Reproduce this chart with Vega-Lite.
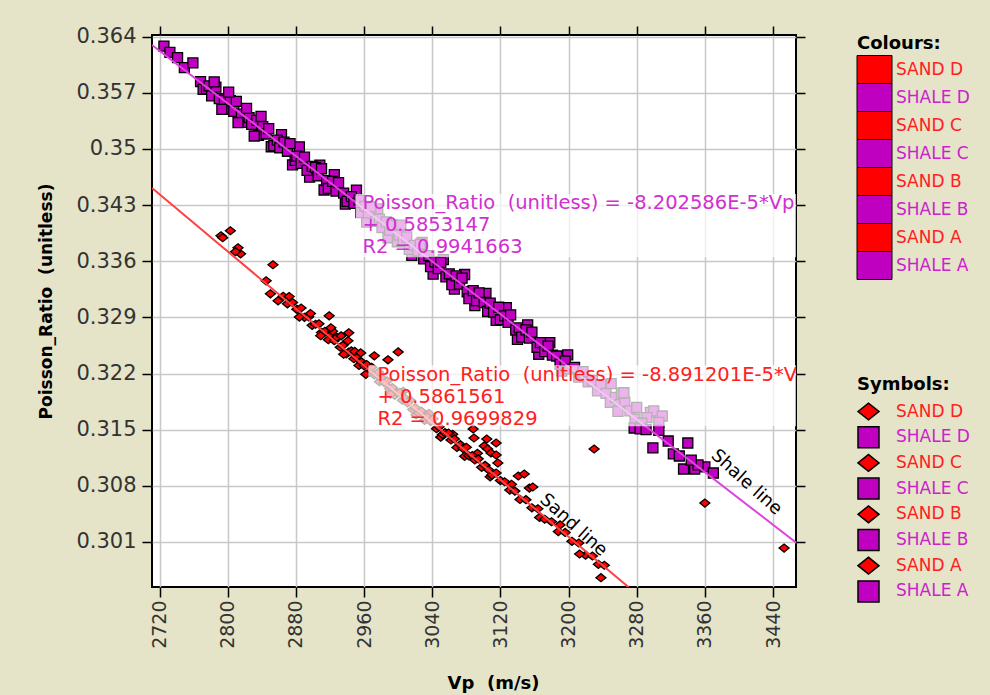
{
  "$schema": "https://vega.github.io/schema/vega-lite/v6.json",
  "width": 644,
  "height": 552,
  "autosize": {"type": "none"},
  "padding": {"left": 152, "top": 35, "right": 194, "bottom": 108},
  "background": "#e5e4c8",
  "config": {
    "view": {"fill": "white", "stroke": "black", "strokeWidth": 2},
    "axis": {
      "domain": false,
      "tickColor": "black",
      "tickWidth": 1.5,
      "tickSize": 10,
      "gridColor": "#c8c8c8",
      "gridWidth": 1.5,
      "labelFont": "DejaVu Sans",
      "labelColor": "#333333",
      "titleFont": "DejaVu Sans",
      "titleFontWeight": "bold",
      "titleColor": "black",
      "titleFontSize": 17
    },
    "legend": {
      "padding": 0,
      "titleFont": "DejaVu Sans",
      "titleFontSize": 18,
      "titleFontWeight": "bold",
      "titleColor": "black",
      "titlePadding": 6,
      "labelFont": "DejaVu Sans",
      "labelFontSize": 17,
      "labelLimit": 200
    }
  },
  "datasets": {
    "pts": [
      {"z":"SHALE D","vp":2725,"pr":0.3628},
      {"z":"SHALE D","vp":2732,"pr":0.36202},
      {"z":"SHALE D","vp":2741,"pr":0.36138},
      {"z":"SHALE D","vp":2749,"pr":0.36013},
      {"z":"SHALE D","vp":2759,"pr":0.36071},
      {"z":"SHALE D","vp":2768,"pr":0.35837},
      {"z":"SHALE D","vp":2771,"pr":0.35742},
      {"z":"SHALE D","vp":2775,"pr":0.35749},
      {"z":"SHALE D","vp":2778,"pr":0.35785},
      {"z":"SHALE D","vp":2781,"pr":0.3566},
      {"z":"SHALE D","vp":2786,"pr":0.35769},
      {"z":"SHALE D","vp":2790,"pr":0.35626},
      {"z":"SHALE D","vp":2796,"pr":0.35607},
      {"z":"SHALE D","vp":2798,"pr":0.35491},
      {"z":"SHALE D","vp":2803,"pr":0.356},
      {"z":"SHALE D","vp":2807,"pr":0.35467},
      {"z":"SHALE D","vp":2810,"pr":0.35592},
      {"z":"SHALE D","vp":2816,"pr":0.35433},
      {"z":"SHALE D","vp":2820,"pr":0.3533},
      {"z":"SHALE D","vp":2825,"pr":0.35389},
      {"z":"SHALE D","vp":2828,"pr":0.35305},
      {"z":"SHALE D","vp":2834,"pr":0.35355},
      {"z":"SHALE D","vp":2836,"pr":0.35169},
      {"z":"SHALE D","vp":2841,"pr":0.35278},
      {"z":"SHALE D","vp":2845,"pr":0.35185},
      {"z":"SHALE D","vp":2848,"pr":0.35251},
      {"z":"SHALE D","vp":2784,"pr":0.35835},
      {"z":"SHALE D","vp":2793,"pr":0.35492},
      {"z":"SHALE D","vp":2801,"pr":0.35706},
      {"z":"SHALE D","vp":2812,"pr":0.35326},
      {"z":"SHALE D","vp":2822,"pr":0.35504},
      {"z":"SHALE D","vp":2831,"pr":0.3516},
      {"z":"SHALE D","vp":2839,"pr":0.35404},
      {"z":"SHALE C","vp":2851,"pr":0.35026},
      {"z":"SHALE C","vp":2863,"pr":0.35178},
      {"z":"SHALE C","vp":2876,"pr":0.34801},
      {"z":"SHALE C","vp":2884,"pr":0.35025},
      {"z":"SHALE C","vp":2896,"pr":0.34647},
      {"z":"SHALE C","vp":2908,"pr":0.34798},
      {"z":"SHALE C","vp":2913,"pr":0.34487},
      {"z":"SHALE C","vp":2925,"pr":0.34679},
      {"z":"SHALE C","vp":2938,"pr":0.34312},
      {"z":"SHALE C","vp":2951,"pr":0.34486},
      {"z":"SHALE C","vp":2963,"pr":0.34087},
      {"z":"SHALE C","vp":2976,"pr":0.34251},
      {"z":"SHALE C","vp":2988,"pr":0.33892},
      {"z":"SHALE C","vp":2854,"pr":0.35041},
      {"z":"SHALE C","vp":2858,"pr":0.35109},
      {"z":"SHALE C","vp":2861,"pr":0.35014},
      {"z":"SHALE C","vp":2866,"pr":0.35083},
      {"z":"SHALE C","vp":2870,"pr":0.3497},
      {"z":"SHALE C","vp":2873,"pr":0.35066},
      {"z":"SHALE C","vp":2879,"pr":0.34856},
      {"z":"SHALE C","vp":2881,"pr":0.3491},
      {"z":"SHALE C","vp":2886,"pr":0.34819},
      {"z":"SHALE C","vp":2890,"pr":0.34896},
      {"z":"SHALE C","vp":2893,"pr":0.34731},
      {"z":"SHALE C","vp":2899,"pr":0.34782},
      {"z":"SHALE C","vp":2903,"pr":0.34769},
      {"z":"SHALE C","vp":2906,"pr":0.34665},
      {"z":"SHALE C","vp":2910,"pr":0.34752},
      {"z":"SHALE C","vp":2916,"pr":0.34603},
      {"z":"SHALE C","vp":2918,"pr":0.34506},
      {"z":"SHALE C","vp":2923,"pr":0.34595},
      {"z":"SHALE C","vp":2927,"pr":0.34473},
      {"z":"SHALE C","vp":2930,"pr":0.34578},
      {"z":"SHALE C","vp":2936,"pr":0.34449},
      {"z":"SHALE C","vp":2940,"pr":0.34346},
      {"z":"SHALE C","vp":2945,"pr":0.34405},
      {"z":"SHALE C","vp":2948,"pr":0.3432},
      {"z":"SHALE C","vp":2954,"pr":0.34361},
      {"z":"SHALE C","vp":2956,"pr":0.34205},
      {"z":"SHALE C","vp":2961,"pr":0.34284},
      {"z":"SHALE C","vp":2965,"pr":0.34201},
      {"z":"SHALE C","vp":2968,"pr":0.34276},
      {"z":"SHALE C","vp":2974,"pr":0.34097},
      {"z":"SHALE C","vp":2978,"pr":0.34124},
      {"z":"SHALE C","vp":2981,"pr":0.3402},
      {"z":"SHALE C","vp":2986,"pr":0.34089},
      {"z":"SHALE C","vp":2990,"pr":0.33986},
      {"z":"SHALE C","vp":2993,"pr":0.34051},
      {"z":"SHALE C","vp":2999,"pr":0.33842},
      {"z":"SHALE B","vp":3003,"pr":0.34049},
      {"z":"SHALE B","vp":3016,"pr":0.33672},
      {"z":"SHALE B","vp":3028,"pr":0.33834},
      {"z":"SHALE B","vp":3041,"pr":0.33438},
      {"z":"SHALE B","vp":3053,"pr":0.33619},
      {"z":"SHALE B","vp":3066,"pr":0.33252},
      {"z":"SHALE B","vp":3078,"pr":0.33434},
      {"z":"SHALE B","vp":3090,"pr":0.33046},
      {"z":"SHALE B","vp":3103,"pr":0.33199},
      {"z":"SHALE B","vp":3115,"pr":0.32861},
      {"z":"SHALE B","vp":3127,"pr":0.33022},
      {"z":"SHALE B","vp":3140,"pr":0.32625},
      {"z":"SHALE B","vp":3001,"pr":0.33926},
      {"z":"SHALE B","vp":3006,"pr":0.33845},
      {"z":"SHALE B","vp":3010,"pr":0.33902},
      {"z":"SHALE B","vp":3013,"pr":0.33747},
      {"z":"SHALE B","vp":3019,"pr":0.33798},
      {"z":"SHALE B","vp":3023,"pr":0.33725},
      {"z":"SHALE B","vp":3026,"pr":0.33811},
      {"z":"SHALE B","vp":3030,"pr":0.33628},
      {"z":"SHALE B","vp":3036,"pr":0.33669},
      {"z":"SHALE B","vp":3038,"pr":0.33532},
      {"z":"SHALE B","vp":3043,"pr":0.33591},
      {"z":"SHALE B","vp":3047,"pr":0.33508},
      {"z":"SHALE B","vp":3050,"pr":0.33584},
      {"z":"SHALE B","vp":3056,"pr":0.33404},
      {"z":"SHALE B","vp":3060,"pr":0.33442},
      {"z":"SHALE B","vp":3063,"pr":0.33307},
      {"z":"SHALE B","vp":3068,"pr":0.33416},
      {"z":"SHALE B","vp":3072,"pr":0.33313},
      {"z":"SHALE B","vp":3075,"pr":0.33389},
      {"z":"SHALE B","vp":3081,"pr":0.33219},
      {"z":"SHALE B","vp":3083,"pr":0.33133},
      {"z":"SHALE B","vp":3088,"pr":0.33232},
      {"z":"SHALE B","vp":3092,"pr":0.33109},
      {"z":"SHALE B","vp":3095,"pr":0.33205},
      {"z":"SHALE B","vp":3101,"pr":0.33085},
      {"z":"SHALE B","vp":3105,"pr":0.32973},
      {"z":"SHALE B","vp":3108,"pr":0.33078},
      {"z":"SHALE B","vp":3112,"pr":0.32965},
      {"z":"SHALE B","vp":3118,"pr":0.33026},
      {"z":"SHALE B","vp":3120,"pr":0.3287},
      {"z":"SHALE B","vp":3125,"pr":0.32918},
      {"z":"SHALE B","vp":3129,"pr":0.32836},
      {"z":"SHALE B","vp":3132,"pr":0.32931},
      {"z":"SHALE B","vp":3138,"pr":0.32742},
      {"z":"SHALE B","vp":3142,"pr":0.32769},
      {"z":"SHALE B","vp":3145,"pr":0.32654},
      {"z":"SHALE A","vp":3152,"pr":0.32807},
      {"z":"SHALE A","vp":3165,"pr":0.3244},
      {"z":"SHALE A","vp":3178,"pr":0.32584},
      {"z":"SHALE A","vp":3192,"pr":0.32229},
      {"z":"SHALE A","vp":3199,"pr":0.32432},
      {"z":"SHALE A","vp":3150,"pr":0.32743},
      {"z":"SHALE A","vp":3154,"pr":0.32641},
      {"z":"SHALE A","vp":3157,"pr":0.32716},
      {"z":"SHALE A","vp":3163,"pr":0.32527},
      {"z":"SHALE A","vp":3167,"pr":0.32584},
      {"z":"SHALE A","vp":3172,"pr":0.32473},
      {"z":"SHALE A","vp":3176,"pr":0.3254},
      {"z":"SHALE A","vp":3181,"pr":0.32429},
      {"z":"SHALE A","vp":3186,"pr":0.32418},
      {"z":"SHALE A","vp":3190,"pr":0.32315},
      {"z":"SHALE A","vp":3196,"pr":0.32356},
      {"z":"SHALE A","vp":3201,"pr":0.32255},
      {"z":"SHALE A","vp":3207,"pr":0.32276},
      {"z":"SHALE A","vp":3212,"pr":0.32155},
      {"z":"SHALE A","vp":3217,"pr":0.32224},
      {"z":"SHALE A","vp":3223,"pr":0.32095},
      {"z":"SHALE A","vp":3228,"pr":0.32114},
      {"z":"SHALE A","vp":3234,"pr":0.31984},
      {"z":"SHALE A","vp":3238,"pr":0.32062},
      {"z":"SHALE A","vp":3244,"pr":0.31952},
      {"z":"SHALE A","vp":3249,"pr":0.31841},
      {"z":"SHALE A","vp":3255,"pr":0.31902},
      {"z":"SHALE A","vp":3260,"pr":0.31811},
      {"z":"SHALE A","vp":3266,"pr":0.31842},
      {"z":"SHALE A","vp":3272,"pr":0.31733},
      {"z":"SHALE A","vp":3278,"pr":0.31633},
      {"z":"SHALE A","vp":3250,"pr":0.32073},
      {"z":"SHALE A","vp":3262,"pr":0.31955},
      {"z":"SHALE A","vp":3280,"pr":0.31777},
      {"z":"SHALE A","vp":3296,"pr":0.31716},
      {"z":"SHALE A","vp":3258,"pr":0.31728},
      {"z":"SHALE A","vp":3300,"pr":0.31733},
      {"z":"SHALE A","vp":3310,"pr":0.3167},
      {"z":"SHALE A","vp":3306,"pr":0.3159},
      {"z":"SHALE A","vp":3292,"pr":0.3165},
      {"z":"SHALE A","vp":3265,"pr":0.3196},
      {"z":"SHALE A","vp":3286,"pr":0.3158},
      {"z":"SHALE A","vp":3277,"pr":0.31521},
      {"z":"SHALE A","vp":3284,"pr":0.3151},
      {"z":"SHALE A","vp":3291,"pr":0.315},
      {"z":"SHALE A","vp":3299,"pr":0.31272},
      {"z":"SHALE A","vp":3306,"pr":0.3149},
      {"z":"SHALE A","vp":3317,"pr":0.31359},
      {"z":"SHALE A","vp":3323,"pr":0.31197},
      {"z":"SHALE A","vp":3330,"pr":0.31172},
      {"z":"SHALE A","vp":3335,"pr":0.3101},
      {"z":"SHALE A","vp":3340,"pr":0.31334},
      {"z":"SHALE A","vp":3348,"pr":0.3101},
      {"z":"SHALE A","vp":3360,"pr":0.31035},
      {"z":"SHALE A","vp":3370,"pr":0.3096},
      {"z":"SHALE A","vp":3352,"pr":0.3106},
      {"z":"SHALE A","vp":3344,"pr":0.3112},
      {"z":"SAND D","vp":2792,"pr":0.33917},
      {"z":"SAND D","vp":2803,"pr":0.33979},
      {"z":"SAND D","vp":2794,"pr":0.33892},
      {"z":"SAND D","vp":2812,"pr":0.33767},
      {"z":"SAND D","vp":2815,"pr":0.33692},
      {"z":"SAND D","vp":2809,"pr":0.33717},
      {"z":"SAND C","vp":2853,"pr":0.33555},
      {"z":"SAND D","vp":2845,"pr":0.33355},
      {"z":"SAND C","vp":2850,"pr":0.33193},
      {"z":"SAND C","vp":2859,"pr":0.33106},
      {"z":"SAND C","vp":2865,"pr":0.33162},
      {"z":"SAND C","vp":2870,"pr":0.33068},
      {"z":"SAND C","vp":2876,"pr":0.33084},
      {"z":"SAND C","vp":2881,"pr":0.33},
      {"z":"SAND C","vp":2886,"pr":0.33016},
      {"z":"SAND C","vp":2890,"pr":0.329},
      {"z":"SAND C","vp":2895,"pr":0.32906},
      {"z":"SAND C","vp":2899,"pr":0.328},
      {"z":"SAND C","vp":2903,"pr":0.32814},
      {"z":"SAND C","vp":2907,"pr":0.32819},
      {"z":"SAND C","vp":2910,"pr":0.32712},
      {"z":"SAND C","vp":2914,"pr":0.32727},
      {"z":"SAND C","vp":2918,"pr":0.32621},
      {"z":"SAND C","vp":2921,"pr":0.32684},
      {"z":"SAND C","vp":2925,"pr":0.32609},
      {"z":"SAND C","vp":2928,"pr":0.32652},
      {"z":"SAND C","vp":2932,"pr":0.32527},
      {"z":"SAND C","vp":2935,"pr":0.3255},
      {"z":"SAND C","vp":2939,"pr":0.32444},
      {"z":"SAND C","vp":2942,"pr":0.32468},
      {"z":"SAND C","vp":2945,"pr":0.32481},
      {"z":"SAND C","vp":2948,"pr":0.32384},
      {"z":"SAND C","vp":2951,"pr":0.32408},
      {"z":"SAND C","vp":2954,"pr":0.32301},
      {"z":"SAND C","vp":2957,"pr":0.32344},
      {"z":"SAND C","vp":2960,"pr":0.32298},
      {"z":"SAND C","vp":2963,"pr":0.32311},
      {"z":"SAND C","vp":2966,"pr":0.32214},
      {"z":"SAND C","vp":2969,"pr":0.32278},
      {"z":"SAND C","vp":2972,"pr":0.32181},
      {"z":"SAND C","vp":2975,"pr":0.32184},
      {"z":"SAND C","vp":2978,"pr":0.32098},
      {"z":"SAND C","vp":2981,"pr":0.32141},
      {"z":"SAND C","vp":2984,"pr":0.32084},
      {"z":"SAND C","vp":2987,"pr":0.32108},
      {"z":"SAND C","vp":2990,"pr":0.32011},
      {"z":"SAND C","vp":2993,"pr":0.32024},
      {"z":"SAND C","vp":2996,"pr":0.31928},
      {"z":"SAND C","vp":2999,"pr":0.31961},
      {"z":"SAND C","vp":2872,"pr":0.3316},
      {"z":"SAND C","vp":2884,"pr":0.32903},
      {"z":"SAND C","vp":2897,"pr":0.32948},
      {"z":"SAND C","vp":2909,"pr":0.32671},
      {"z":"SAND C","vp":2923,"pr":0.32727},
      {"z":"SAND C","vp":2936,"pr":0.32441},
      {"z":"SAND C","vp":2949,"pr":0.32475},
      {"z":"SAND C","vp":2962,"pr":0.3219},
      {"z":"SAND C","vp":2977,"pr":0.32217},
      {"z":"SAND C","vp":2991,"pr":0.31942},
      {"z":"SAND B","vp":3006,"pr":0.31979},
      {"z":"SAND B","vp":3021,"pr":0.31685},
      {"z":"SAND B","vp":3036,"pr":0.31702},
      {"z":"SAND B","vp":3050,"pr":0.31407},
      {"z":"SAND B","vp":3064,"pr":0.31443},
      {"z":"SAND B","vp":3078,"pr":0.31168},
      {"z":"SAND B","vp":3093,"pr":0.31205},
      {"z":"SAND B","vp":3108,"pr":0.30912},
      {"z":"SAND B","vp":3133,"pr":0.30819},
      {"z":"SAND A","vp":3166,"pr":0.30406},
      {"z":"SAND A","vp":3190,"pr":0.30313},
      {"z":"SAND B","vp":3002,"pr":0.31964},
      {"z":"SAND B","vp":3005,"pr":0.31868},
      {"z":"SAND B","vp":3008,"pr":0.31891},
      {"z":"SAND B","vp":3011,"pr":0.31834},
      {"z":"SAND B","vp":3014,"pr":0.31868},
      {"z":"SAND B","vp":3017,"pr":0.31751},
      {"z":"SAND B","vp":3020,"pr":0.31774},
      {"z":"SAND B","vp":3024,"pr":0.31709},
      {"z":"SAND B","vp":3027,"pr":0.31732},
      {"z":"SAND B","vp":3031,"pr":0.31616},
      {"z":"SAND B","vp":3034,"pr":0.3166},
      {"z":"SAND B","vp":3038,"pr":0.31604},
      {"z":"SAND B","vp":3041,"pr":0.31637},
      {"z":"SAND B","vp":3045,"pr":0.31512},
      {"z":"SAND B","vp":3048,"pr":0.31535},
      {"z":"SAND B","vp":3052,"pr":0.3144},
      {"z":"SAND B","vp":3055,"pr":0.31463},
      {"z":"SAND B","vp":3059,"pr":0.31457},
      {"z":"SAND B","vp":3062,"pr":0.31371},
      {"z":"SAND B","vp":3066,"pr":0.31385},
      {"z":"SAND B","vp":3069,"pr":0.31279},
      {"z":"SAND B","vp":3073,"pr":0.31313},
      {"z":"SAND B","vp":3076,"pr":0.31266},
      {"z":"SAND B","vp":3080,"pr":0.31281},
      {"z":"SAND B","vp":3083,"pr":0.31174},
      {"z":"SAND B","vp":3087,"pr":0.31178},
      {"z":"SAND B","vp":3090,"pr":0.31122},
      {"z":"SAND B","vp":3094,"pr":0.31136},
      {"z":"SAND B","vp":3098,"pr":0.31031},
      {"z":"SAND B","vp":3102,"pr":0.31055},
      {"z":"SAND B","vp":3106,"pr":0.31},
      {"z":"SAND B","vp":3110,"pr":0.30934},
      {"z":"SAND B","vp":3115,"pr":0.3096},
      {"z":"SAND B","vp":3120,"pr":0.30865},
      {"z":"SAND B","vp":3125,"pr":0.30851},
      {"z":"SAND B","vp":3131,"pr":0.30747},
      {"z":"SAND B","vp":3137,"pr":0.30734},
      {"z":"SAND B","vp":3143,"pr":0.30631},
      {"z":"SAND A","vp":3150,"pr":0.30628},
      {"z":"SAND A","vp":3157,"pr":0.30526},
      {"z":"SAND A","vp":3164,"pr":0.30514},
      {"z":"SAND A","vp":3172,"pr":0.30383},
      {"z":"SAND A","vp":3180,"pr":0.30352},
      {"z":"SAND A","vp":3188,"pr":0.3023},
      {"z":"SAND A","vp":3196,"pr":0.30219},
      {"z":"SAND A","vp":3204,"pr":0.30108},
      {"z":"SAND A","vp":3212,"pr":0.30087},
      {"z":"SAND A","vp":3220,"pr":0.29936},
      {"z":"SAND A","vp":3228,"pr":0.29925},
      {"z":"SAND A","vp":3235,"pr":0.29822},
      {"z":"SAND A","vp":3242,"pr":0.2981},
      {"z":"SAND A","vp":3238,"pr":0.29655},
      {"z":"SAND A","vp":3213,"pr":0.2995},
      {"z":"SAND C","vp":2919,"pr":0.32919},
      {"z":"SAND C","vp":2921,"pr":0.32769},
      {"z":"SAND C","vp":2942,"pr":0.32707},
      {"z":"SAND C","vp":2933,"pr":0.32669},
      {"z":"SAND C","vp":2941,"pr":0.32607},
      {"z":"SAND C","vp":2956,"pr":0.32457},
      {"z":"SAND C","vp":2972,"pr":0.3242},
      {"z":"SAND C","vp":2988,"pr":0.3237},
      {"z":"SAND B","vp":3000,"pr":0.32469},
      {"z":"SAND B","vp":3088,"pr":0.31509},
      {"z":"SAND B","vp":3089,"pr":0.31396},
      {"z":"SAND B","vp":3104,"pr":0.31384},
      {"z":"SAND B","vp":3115,"pr":0.31334},
      {"z":"SAND B","vp":3101,"pr":0.31297},
      {"z":"SAND B","vp":3105,"pr":0.31259},
      {"z":"SAND B","vp":3109,"pr":0.31209},
      {"z":"SAND B","vp":3115,"pr":0.31184},
      {"z":"SAND B","vp":3117,"pr":0.31084},
      {"z":"SAND B","vp":3141,"pr":0.30922},
      {"z":"SAND B","vp":3148,"pr":0.30947},
      {"z":"SAND A","vp":3154,"pr":0.30772},
      {"z":"SAND A","vp":3158,"pr":0.30785},
      {"z":"SAND A","vp":3230,"pr":0.31259},
      {"z":"SAND A","vp":3360,"pr":0.30585},
      {"z":"SAND A","vp":3453,"pr":0.30024}
    ],
    "lines": [
      {"series": "shale", "vp": 2711, "pr": 0.362943},
      {"series": "shale", "vp": 3467, "pr": 0.300931},
      {"series": "sand", "vp": 2711, "pr": 0.345115},
      {"series": "sand", "vp": 3270.3, "pr": 0.29539}
    ],
    "boxes": [
      {"vp0": 2950, "vp1": 3467, "pr0": 0.34436, "pr1": 0.3365},
      {"vp0": 2965, "vp1": 3467, "pr0": 0.32303, "pr1": 0.31543}
    ],
    "eqs": [
      {"series": "shale", "vp": 2958, "pr": 0.34442, "label": "Poisson_Ratio\u00a0 (unitless) = -8.202586E-5*Vp\n+ 0.5853147\nR2 = 0.9941663"},
      {"series": "sand", "vp": 2975.6, "pr": 0.32297, "label": "Poisson_Ratio\u00a0 (unitless) = -8.891201E-5*Vp\n+ 0.5861561\nR2 = 0.9699829"}
    ],
    "linelabels": [
      {"vp": 3408.6, "pr": 0.30842, "label": "Shale line"},
      {"vp": 3205.6, "pr": 0.30308, "label": "Sand line"}
    ]
  },
  "layer": [
    {
      "data": {"name": "pts"},
      "mark": {"type": "point", "filled": true, "stroke": "black", "strokeWidth": 1.3, "opacity": 1, "size": 100},
      "encoding": {
        "x": {
          "field": "vp", "type": "quantitative",
          "scale": {"domain": [2711, 3467], "nice": false, "zero": false},
          "axis": {
            "orient": "bottom",
            "values": [2720, 2800, 2880, 2960, 3040, 3120, 3200, 3280, 3360, 3440],
            "format": "d", "labelAngle": 270, "labelFontSize": 19, "labelPadding": 3,
            "title": "Vp\u00a0 (m/s)", "titleFontSize": 18, "titlePadding": 26, "titleX": 341, "grid": true
          }
        },
        "y": {
          "field": "pr", "type": "quantitative",
          "scale": {"domain": [0.29539, 0.36419], "nice": false, "zero": false},
          "axis": {
            "orient": "left",
            "values": [0.301, 0.308, 0.315, 0.322, 0.329, 0.336, 0.343, 0.35, 0.357, 0.364],
            "format": ".3~f", "labelFontSize": 21, "labelPadding": 6,
            "title": "Poisson_Ratio\u00a0 (unitless)", "titlePadding": 20, "titleY": 266, "grid": true
          }
        },
        "color": {
          "field": "z", "type": "nominal",
          "scale": {
            "domain": ["SAND D", "SHALE D", "SAND C", "SHALE C", "SAND B", "SHALE B", "SAND A", "SHALE A"],
            "range": ["#ff0000", "#c000c0", "#ff0000", "#c000c0", "#ff0000", "#c000c0", "#ff0000", "#c000c0"]
          },
          "legend": {
            "title": "Colours:",
            "orient": "right",
            "offset": 51,
            "labelColor": {"expr": "indexof(datum.value, 'SAND') >= 0 ? '#ff2020' : '#cc22cc'"},
            "symbolType": "M-1.05,-1.4L2.45,-1.4L2.45,1.4L-1.05,1.4Z",
            "symbolSize": 400,
            "symbolStrokeColor": "black",
            "symbolStrokeWidth": 1,
            "symbolOpacity": 1,
            "symbolOffset": 0,
            "rowPadding": -5,
            "labelOffset": 18
          }
        },
        "shape": {
          "field": "z", "type": "nominal",
          "scale": {
            "domain": ["SAND D", "SHALE D", "SAND C", "SHALE C", "SAND B", "SHALE B", "SAND A", "SHALE A"],
            "range": ["M-1,0L0,-0.8L1,0L0,0.8Z", "square", "M-1,0L0,-0.8L1,0L0,0.8Z", "square", "M-1,0L0,-0.8L1,0L0,0.8Z", "square", "M-1,0L0,-0.8L1,0L0,0.8Z", "square"]
          },
          "legend": {
            "title": "Symbols:",
            "orient": "none",
            "legendX": 705,
            "legendY": 341,
            "labelColor": {"expr": "indexof(datum.value, 'SAND') >= 0 ? '#ff2020' : '#cc22cc'"},
            "symbolFillColor": {"expr": "indexof(datum.value, 'SAND') >= 0 ? '#ff0000' : '#c000c0'"},
            "symbolStrokeColor": "black",
            "symbolStrokeWidth": 1.5,
            "symbolOpacity": 1,
            "symbolSize": 441,
            "symbolOffset": 0,
            "rowPadding": 0.7,
            "labelOffset": 16
          }
        }
      }
    },
    {
      "data": {"name": "lines"},
      "mark": {"type": "line", "strokeWidth": 2, "clip": true},
      "encoding": {
        "x": {
          "field": "vp", "type": "quantitative",
          "axis": {"orient": "top", "values": [2720, 2800, 2880, 2960, 3040, 3120, 3200, 3280, 3360, 3440], "labels": false, "grid": false, "title": null, "tickSize": 9}
        },
        "y": {
          "field": "pr", "type": "quantitative",
          "axis": {"orient": "right", "values": [0.301, 0.308, 0.315, 0.322, 0.329, 0.336, 0.343, 0.35, 0.357, 0.364], "labels": false, "grid": false, "title": null, "tickSize": 9}
        },
        "stroke": {
          "field": "series", "type": "nominal",
          "scale": {"domain": ["shale", "sand"], "range": ["#dd44dd", "#ff4040"]},
          "legend": null
        }
      }
    },
    {
      "data": {"name": "boxes"},
      "mark": {"type": "rect", "fill": "white", "opacity": 0.7, "clip": true},
      "encoding": {
        "x": {"field": "vp0", "type": "quantitative", "axis": null},
        "x2": {"field": "vp1"},
        "y": {"field": "pr0", "type": "quantitative", "axis": null},
        "y2": {"field": "pr1"}
      }
    },
    {
      "data": {"name": "eqs"},
      "mark": {"type": "text", "align": "left", "baseline": "top", "font": "DejaVu Sans", "fontSize": 19.5, "lineHeight": 22, "lineBreak": "\n", "clip": true},
      "encoding": {
        "x": {"field": "vp", "type": "quantitative", "axis": null},
        "y": {"field": "pr", "type": "quantitative", "axis": null},
        "text": {"field": "label"},
        "fill": {
          "field": "series", "type": "nominal",
          "scale": {"domain": ["shale", "sand"], "range": ["#d030d0", "#ff2020"]},
          "legend": null
        }
      }
    },
    {
      "data": {"name": "linelabels"},
      "mark": {"type": "text", "angle": 42, "align": "center", "baseline": "middle", "font": "DejaVu Sans", "fontSize": 18, "color": "black"},
      "encoding": {
        "x": {"field": "vp", "type": "quantitative", "axis": null},
        "y": {"field": "pr", "type": "quantitative", "axis": null},
        "text": {"field": "label"}
      }
    }
  ]
}
